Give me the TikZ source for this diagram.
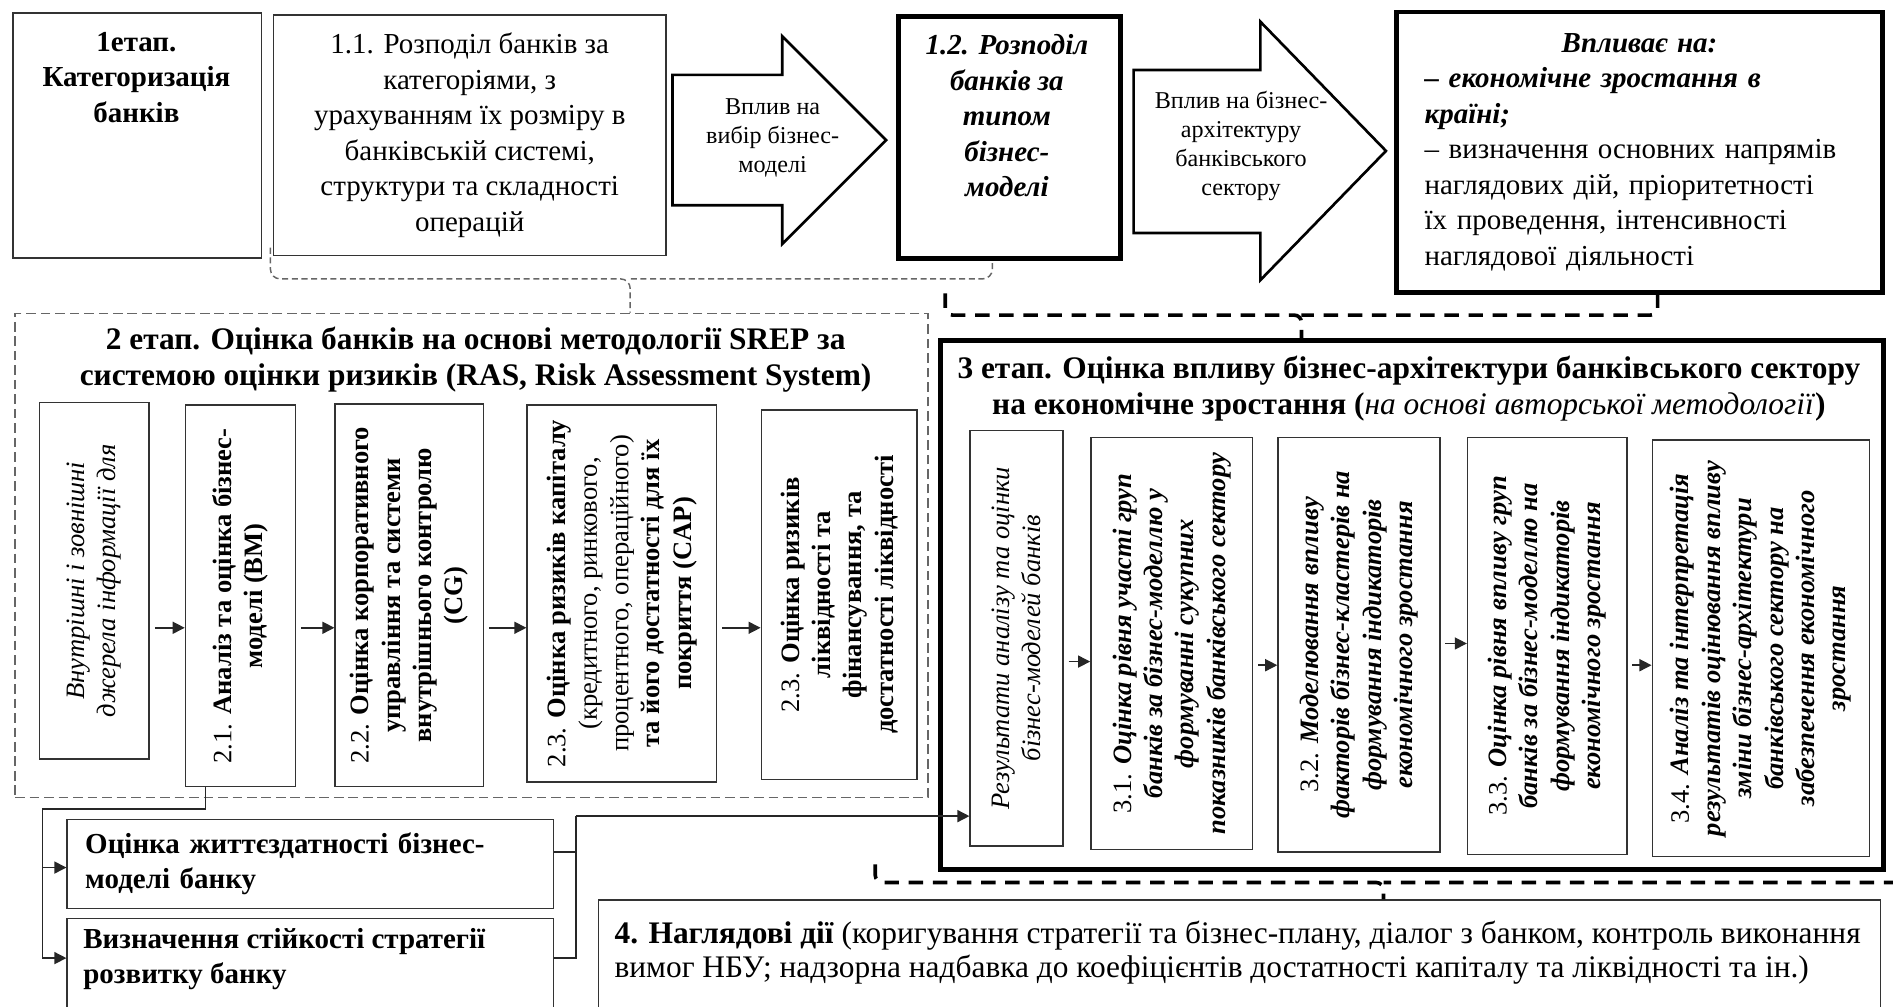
\documentclass[tikz,border=0pt]{standalone}
\usepackage{fontspec}
\setmainfont{Liberation Serif}
\usetikzlibrary{arrows.meta}

\newcommand\fmain{\fontsize{12}{14.7}\selectfont}
\newcommand\fsmall{\fontsize{10}{12}\selectfont}
\newcommand\fvert{\fontsize{11}{13}\selectfont}
\newcommand\fhead{\fontsize{13}{15}\selectfont}
\newcommand\fwide{\fontsize{13}{14}\selectfont}
\newcommand\bfit[1]{\textbf{\textit{#1}}}

\tikzset{
  box/.style={draw=black!80, line width=0.6pt, rectangle, inner sep=0pt, anchor=north west},
  heavy/.style={draw=black, line width=2pt, rectangle, inner sep=0pt, anchor=north west},
  dashbox/.style={draw=black!60, line width=0.6pt, dash pattern=on 4pt off 2pt, anchor=north west},
  bigarrow/.style={draw, line width=1.1pt, line join=miter},
  vtext/.style={rotate=90, align=center, font=\fvert, inner sep=0pt},
  arr/.style={draw=black!85, line width=0.6pt, shorten <=2pt, -{Triangle[length=5pt, width=5pt]}},
  link/.style={draw=black!85, line width=0.6pt},
  thinbrace/.style={draw=black!60, line width=0.6pt, dash pattern=on 2.5pt off 1.5pt, rounded corners=4pt},
  thickbrace/.style={draw=black, line width=1.5pt, dash pattern=on 6pt off 4pt, rounded corners=3pt}
}

\begin{document}
\begin{tikzpicture}[x=0.5pt, y=-0.5pt, font=\fmain]
\path[use as bounding box] (0,0) rectangle (1568,834);
\clip (0,0) rectangle (1568,834);

% stage 1
\node[box, minimum width=103pt, minimum height=101.5pt] (etap1) at (10,10) {};
\node[font=\fmain\bfseries, align=center] (etap1t) at (113,64) {1етап.\\Категоризація\\банків};
\node[box, minimum width=162.5pt, minimum height=99.5pt, align=center] (b11) at (226,12) {1.1. Розподіл банків за\\категоріями, з\\урахуванням їх розміру в\\банківській системі,\\структури та складності\\операцій};

\draw[bigarrow] (557,62) -- (648,62) -- (648,30) -- (734,116) -- (648,202) -- (648,170) -- (557,170) -- cycle;
\node[font=\fsmall, align=center] (arr1) at (640,114) {Вплив на\\вибір бізнес-\\моделі};

\node[heavy, minimum width=92pt, minimum height=100pt] (b12) at (742,12) {};
\node[font=\fmain\bfseries\itshape, align=center] (b12t) at (834,96) {1.2. Розподіл\\банків за\\типом\\бізнес-\\моделі};

\draw[bigarrow] (939,58) -- (1044,58) -- (1044,18) -- (1148,125) -- (1044,232) -- (1044,193) -- (939,193) -- cycle;
\node[font=\fsmall, align=center] (arr2) at (1028,121) {Вплив на бізнес-\\архітектуру\\банківського\\сектору};

\node[heavy, minimum width=201pt, minimum height=116pt, text width=178pt, align=left] (infl) at (1155,8) {\hfill\bfit{Впливає на:}\hfill\null\\\bfit{– економічне зростання в}\\\bfit{країні;}\\– визначення основних напрямів\\наглядових дій, пріоритетності\\їх проведення, інтенсивності\\наглядової діяльності};

% braces between stages
\coordinate (br1) at (522,231);
\draw[thinbrace] ([shift={(-2,-7)}]b11.south west) |- (br1) -- (br1 |- 0,259);
\draw[thinbrace] ([shift={(-14,2)}]b12.south) |- (br1);

\coordinate (br2) at (1078,261);
\coordinate (br2a) at (783,243);
\coordinate (br2b) at (1373,243);
\draw[thickbrace] (br2a) |- (br2) -- (br2 |- 0,280);
\draw[thickbrace] (br2b) |- (br2);

% stage 2
\node[dashbox, minimum width=378pt, minimum height=200.5pt] (etap2) at (12,259) {};
\node[font=\fhead\bfseries, align=center] (etap2t) at (394,298) {2 етап. Оцінка банків на основі методології SREP за\\системою оцінки ризиків (RAS, Risk Assessment System)};

\node[box, minimum width=45.5pt, minimum height=147.5pt, label={[vtext, font=\fvert\itshape]center:{Внутрішні і зовнішні\\джерела інформації для}}] (src) at (32,333) {};
\node[box, minimum width=45.5pt, minimum height=158pt, label={[vtext]center:{2.1. \textbf{Аналіз та оцінка бізнес-}\\\textbf{моделі (BM)}}}] (b21) at (153,335) {};
\node[box, minimum width=61.5pt, minimum height=158.5pt, label={[vtext]center:{2.2. \textbf{Оцінка корпоративного}\\\textbf{управління та системи}\\\textbf{внутрішнього контролю}\\\textbf{(CG)}}}] (b22) at (277,334) {};
\node[box, minimum width=78.5pt, minimum height=156pt, label={[vtext]center:{2.3. \textbf{Оцінка ризиків капіталу}\\(кредитного, ринкового,\\процентного, операційного)\\\textbf{та його достатності для їх}\\\textbf{покриття (CAP)}}}] (b23) at (436,335) {};
\node[box, minimum width=64.5pt, minimum height=153pt, label={[vtext]center:{2.3. \textbf{Оцінка ризиків}\\\textbf{ліквідності та}\\\textbf{фінансування, та}\\\textbf{достатності ліквідності}}}] (b24) at (630,339) {};

\coordinate (ya) at (0,520);
\draw[arr] (src.east |- ya) -- (b21.west |- ya);
\draw[arr] (b21.east |- ya) -- (b22.west |- ya);
\draw[arr] (b22.east |- ya) -- (b23.west |- ya);
\draw[arr] (b23.east |- ya) -- (b24.west |- ya);

% stage 3
\node[heavy, minimum width=390.5pt, minimum height=219pt] (etap3) at (777,280) {};
\node[font=\fhead\bfseries, align=center] (etap3t) at (1167,322) {3 етап. Оцінка впливу бізнес-архітектури банківського сектору\\на економічне зростання (\textit{\mdseries на основі авторської методології})};

\node[box, minimum width=38.5pt, minimum height=172pt, label={[vtext, font=\fvert\itshape]center:{Результати аналізу та оцінки\\бізнес-моделей банків}}] (res) at (803,356) {};
\node[box, minimum width=67pt, minimum height=170.5pt, label={[vtext]center:{3.1. \bfit{Оцінка рівня участі груп}\\\bfit{банків за бізнес-моделлю у}\\\bfit{формуванні сукупних}\\\bfit{показників банківського сектору}}}] (b31) at (903,362) {};
\node[box, minimum width=67pt, minimum height=171.5pt, label={[vtext]center:{3.2. \bfit{Моделювання впливу}\\\bfit{факторів бізнес-кластерів на}\\\bfit{формування індикаторів}\\\bfit{економічного зростання}}}] (b32) at (1058,362) {};
\node[box, minimum width=66pt, minimum height=172.5pt, label={[vtext]center:{3.3. \bfit{Оцінка рівня впливу груп}\\\bfit{банків за бізнес-моделлю на}\\\bfit{формування індикаторів}\\\bfit{економічного зростання}}}] (b33) at (1215,362) {};
\node[box, minimum width=90pt, minimum height=172.5pt, label={[vtext]center:{3.4. \bfit{Аналіз та інтерпретація}\\\bfit{результатів оцінювання впливу}\\\bfit{зміни бізнес-архітектури}\\\bfit{банківського сектору на}\\\bfit{забезпечення економічного}\\\bfit{зростання}}}] (b34) at (1368,364) {};

\coordinate (yb) at (0,548);
\coordinate (yc) at (0,551);
\coordinate (yd) at (0,533);
\draw[arr] (res.east |- yb) -- (b31.west |- yb);
\draw[arr] (b31.east |- yc) -- (b32.west |- yc);
\draw[arr] (b32.east |- yd) -- (b33.west |- yd);
\draw[arr] (b33.east |- yc) -- (b34.west |- yc);

% bottom row
\node[box, minimum width=201.5pt, minimum height=37pt, text width=186.5pt, inner xsep=7.5pt, align=left, font=\fmain\bfseries] (viab) at (55,678) {Оцінка життєздатності бізнес-\\моделі банку};
\node[box, minimum width=201.5pt, minimum height=42pt] (strat) at (55,760) {};
\node[font=\fmain\bfseries, align=left, anchor=west] (stratt) at (62,794.5) {Визначення стійкості стратегії\\розвитку банку};

\node[box, minimum width=531pt, minimum height=48pt] (b4) at (495,745) {};
\node[font=\fwide, align=left, anchor=west] (b4t) at (502,789) {\textbf{4. Наглядові дії} (коригування стратегії та бізнес-плану, діалог з банком, контроль виконання\\вимог НБУ; надзорна надбавка до коефіцієнтів достатності капіталу та ліквідності та ін.)};

\coordinate (br3) at (1146,731);
\coordinate (br3a) at (725,716);
\coordinate (br3b) at (1580,716);
\draw[thickbrace] (br3a) |- (br3) -- (br3 |- b4.north);
\draw[thickbrace] (br3b) |- (br3);

% connectors
\coordinate (j1) at (170,670);
\coordinate (j2) at (35,670);
\draw[link] (b21.south -| j1) -- (j1) -- (j2);
\draw[arr, shorten <=0pt] (j2) |- ([yshift=-1.5pt]viab.west);
\draw[arr, shorten <=0pt] (j2) |- ([yshift=4.5pt]strat.west);

\coordinate (k1) at (477,676);
\draw[link] ([yshift=5pt]viab.east) -| (k1);
\draw[link] ([yshift=4.5pt]strat.east) -| (k1);
\draw[arr, shorten <=0pt] (k1) -- (k1 -| res.west);
\end{tikzpicture}
\end{document}
